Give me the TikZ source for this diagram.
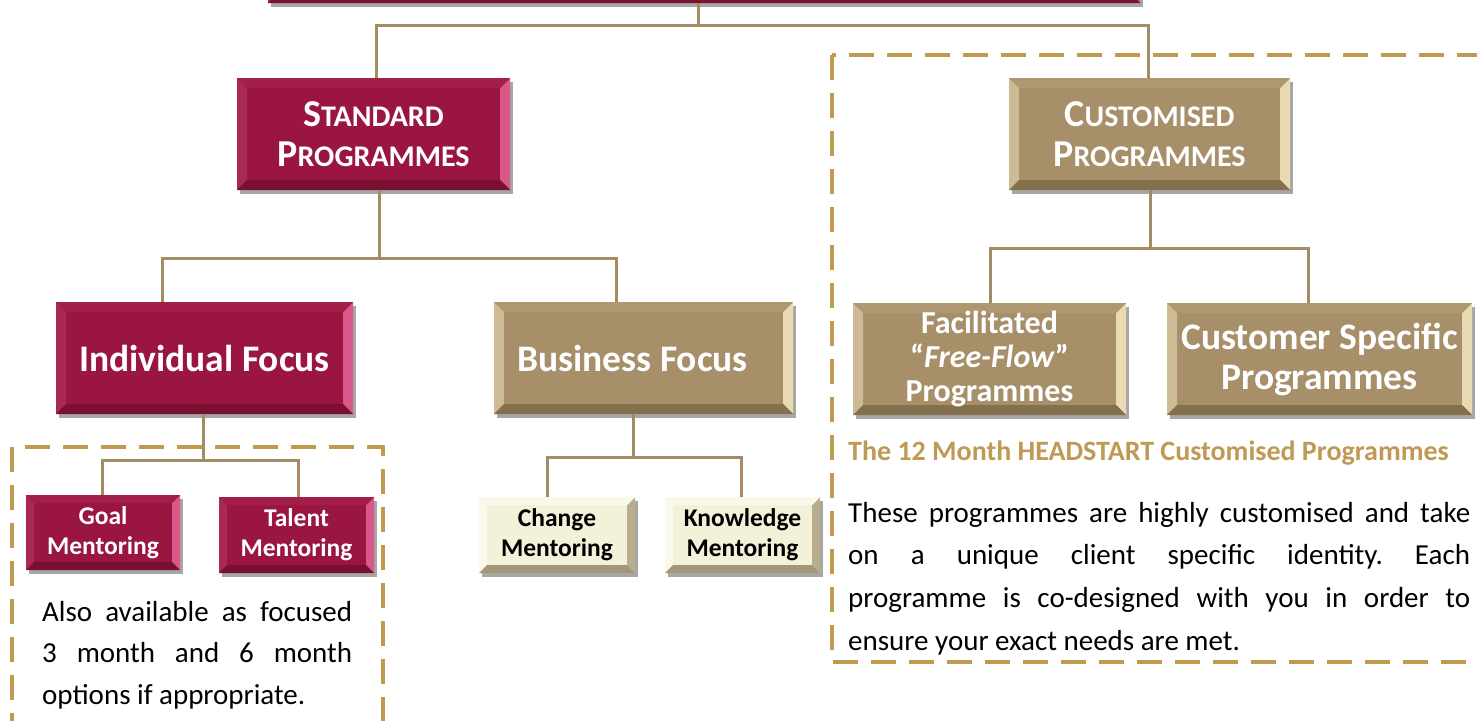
\documentclass[tikz,border=0pt]{standalone}
\usepackage{fontspec}
\setmainfont{Carlito}
\usetikzlibrary{shadows}
\frenchspacing
\definecolor{crim}{HTML}{9A1641}
\definecolor{crimR}{HTML}{D9588A}
\definecolor{crimL}{HTML}{A82A52}
\definecolor{crimT}{HTML}{A41E4A}
\definecolor{crimB}{HTML}{7A0F32}
\definecolor{mtan}{HTML}{A68F69}
\definecolor{mtanR}{HTML}{E9DAB4}
\definecolor{mtanL}{HTML}{CDBB95}
\definecolor{mtanT}{HTML}{AE9872}
\definecolor{mtanB}{HTML}{85704E}
\definecolor{cream}{HTML}{F4F1DA}
\definecolor{creamR}{HTML}{B9AE8C}
\definecolor{creamL}{HTML}{FBF9EC}
\definecolor{creamT}{HTML}{FAF8E8}
\definecolor{creamB}{HTML}{A39777}
\definecolor{clink}{HTML}{A38B63}
\definecolor{cdash}{HTML}{C09B4F}
\definecolor{gold}{HTML}{BF9A55}
% #1 left, #2 right, #3 top, #4 bottom, #5 size
\newcommand\mybevel[5]{%
  \fill[#1] (path picture bounding box.north west) -- (path picture bounding box.south west)
    -- ([xshift=#5,yshift=#5]path picture bounding box.south west)
    -- ([xshift=#5,yshift=-#5]path picture bounding box.north west) -- cycle;
  \fill[#2] (path picture bounding box.north east) -- (path picture bounding box.south east)
    -- ([xshift=-#5,yshift=#5]path picture bounding box.south east)
    -- ([xshift=-#5,yshift=-#5]path picture bounding box.north east) -- cycle;
  \fill[#3] (path picture bounding box.north west) -- (path picture bounding box.north east)
    -- ([xshift=-#5,yshift=-#5]path picture bounding box.north east)
    -- ([xshift=#5,yshift=-#5]path picture bounding box.north west) -- cycle;
  \fill[#4] (path picture bounding box.south west) -- (path picture bounding box.south east)
    -- ([xshift=-#5,yshift=#5]path picture bounding box.south east)
    -- ([xshift=#5,yshift=#5]path picture bounding box.south west) -- cycle;
}
\newcommand\fakesc[2]{{\fontsize{38}{40}\selectfont #1}{\fontsize{30}{40}\selectfont #2}}
\tikzset{
  box/.style={rectangle, inner sep=0pt, align=center, font=\bfseries,
    drop shadow={shadow xshift=3pt, shadow yshift=-4pt, opacity=.35, fill=black}},
  redbox/.style={box, fill=crim, text=white, path picture={\mybevel{crimL}{crimR}{crimT}{crimB}{#1}}},
  tanbox/.style={box, fill=mtan, text=white, path picture={\mybevel{mtanL}{mtanR}{mtanT}{mtanB}{#1}}},
  creambox/.style={box, fill=cream, text=black, path picture={\mybevel{creamL}{creamR}{creamT}{creamB}{#1}}},
  link/.style={draw=clink, line width=3pt},
  dashbox/.style={draw=cdash, line width=3.5pt, dash pattern=on 25pt off 13pt},
  scfont/.style={font=\bfseries\fontsize{30}{40}\selectfont},
  bigfont/.style={font=\bfseries\fontsize{37.5}{40}\selectfont},
  smallfont/.style={font=\bfseries\fontsize{25.5}{30}\selectfont},
  para/.style={anchor=base west, inner sep=0pt, align=justify}
}
\begin{document}
\begin{tikzpicture}[x=1pt, y=-1pt]
\clip (0,0) rectangle (1477,720);
\fill[white] (0,0) rectangle (1477,720);

% dashed frames
\draw[dashbox] (12,447) rectangle (383,760);
\draw[dashbox] (832,55) rectangle (1500,662);

% boxes
\node[redbox=10pt, minimum width=872pt, minimum height=43pt] (top) at (704,-18.5) {};
\node[redbox=10pt, scfont, minimum width=273pt, minimum height=112pt] (std) at (373.5,134)
  {\fakesc{S}{TANDARD}\\\fakesc{P}{ROGRAMMES}};
\node[tanbox=10pt, scfont, minimum width=281pt, minimum height=112pt] (cust) at (1149.5,134)
  {\fakesc{C}{USTOMISED}\\\fakesc{P}{ROGRAMMES}};
\node[redbox=10pt, bigfont, minimum width=297pt, minimum height=112pt] (ind) at (204.5,358) {Individual Focus};
\node[tanbox=10pt, bigfont, minimum width=299pt, minimum height=112pt] (bus) at (643.5,358) {Business Focus\hspace*{22pt}};
\node[tanbox=10pt, font=\bfseries\fontsize{32}{34}\selectfont, minimum width=273pt, minimum height=112pt] (fac) at (989.5,359)
  {Facilitated\\“\textit{Free-Flow}”\\Programmes};
\node[tanbox=10pt, bigfont, minimum width=305pt, minimum height=112pt] (csp) at (1319.5,359)
  {Customer Specific\\Programmes};
\node[redbox=8pt, smallfont, minimum width=154pt, minimum height=75pt] (goal) at (103,532.5) {Goal\\Mentoring};
\node[redbox=8pt, smallfont, minimum width=155pt, minimum height=76pt] (tal) at (296.5,535) {Talent\\Mentoring};
\node[creambox=8pt, smallfont, minimum width=156pt, minimum height=76pt] (chg) at (557,535) {Change\\Mentoring};
\node[creambox=8pt, smallfont, minimum width=155pt, minimum height=76pt] (know) at (742.5,535) {Knowledge\\Mentoring};

% connectors
\coordinate (j1) at (698,25);
\draw[link] (top.south -| j1) -- (j1);
\draw[link] ([xshift=3pt]std.north) |- (j1) -| ([xshift=-1.5pt]cust.north);
\coordinate (j2) at (379,258);
\draw[link] ([xshift=5.5pt]std.south) -- (j2);
\draw[link] ([xshift=-42.5pt]ind.north) |- (j2) -| ([xshift=-27.5pt]bus.north);
\coordinate (j3) at (203,460);
\draw[link] ([xshift=-1.5pt]ind.south) -- (j3);
\draw[link] ([xshift=-1pt]goal.north) |- (j3) -| ([xshift=1.5pt]tal.north);
\coordinate (j4) at (633,457);
\draw[link] ([xshift=-10.5pt]bus.south) -- (j4);
\draw[link] ([xshift=-10pt]chg.north) |- (j4) -| ([xshift=-1.5pt]know.north);
\coordinate (j5) at (1150,248);
\draw[link] ([xshift=0.5pt]cust.south) -- (j5);
\draw[link] ([xshift=0.5pt]fac.north) |- (j5) -| ([xshift=-11.5pt]csp.north);

% texts
\node[para, text width=310pt, font=\fontsize{29}{41.5}\selectfont] (note1) at (42,621)
  {Also available as focused\linebreak 3 month and 6 month\linebreak options if appropriate.};
\node[anchor=base west, inner sep=0pt, text=gold, font=\bfseries\fontsize{28}{30}\selectfont] (hdr) at (848,460)
  {The 12 Month HEADSTART Customised Programmes};
\node[para, text width=622pt, font=\fontsize{29}{42.7}\selectfont] (note2) at (848,522)
  {These programmes are highly customised and take\linebreak on a unique client specific identity. Each\linebreak programme is co-designed with you in order to\linebreak ensure your exact needs are met.};
\end{tikzpicture}
\end{document}
